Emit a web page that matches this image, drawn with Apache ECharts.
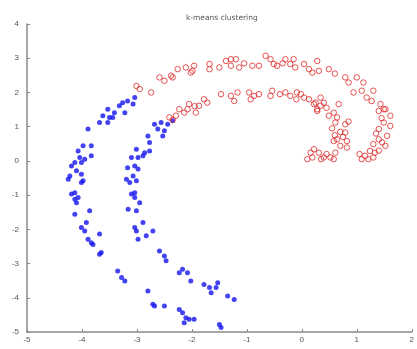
<!DOCTYPE html>
<html>
<head>
<meta charset="utf-8">
<script src="https://cdn.jsdelivr.net/npm/echarts@6/dist/echarts.min.js"></script>
<style>html,body{margin:0;padding:0;background:#fff}#c{width:417px;height:349px}</style>
</head>
<body>
<div id="c"></div>
<script>
var chartTitle = 'k-means clustering';
var xRange = [-5, 2];
var yRange = [-5, 4];

var blueOuter = [[-3.04,1.85],[-3.17,1.75],[-3.26,1.70],[-3.07,1.66],[-3.32,1.61],[-3.22,1.41],[-3.53,1.51],[-3.41,1.41],[-3.62,1.32],[-3.50,1.27],[-3.44,1.27],[-3.68,1.12],[-3.53,1.12],[-3.89,0.93],[-3.98,0.44],[-3.83,0.44],[-4.07,0.29],[-4.04,0.10],[-3.95,0.05],[-3.83,0.15],[-4.13,-0.05],[-4.19,-0.15],[-4.01,-0.05],[-4.10,-0.29],[-4.01,-0.39],[-4.22,-0.44],[-3.98,-0.58],[-4.25,-0.54],[-4.01,-0.63],[-4.13,-0.93],[-4.07,-1.07],[-4.19,-0.97],[-4.13,-1.12],[-4.10,-1.22],[-4.13,-1.56],[-3.86,-1.46],[-3.92,-1.80],[-4.01,-1.95],[-3.95,-2.05],[-3.68,-2.14],[-3.89,-2.29],[-3.83,-2.39],[-3.80,-2.44],[-3.65,-2.68],[-3.68,-2.73],[-3.35,-3.22],[-3.28,-3.41],[-3.22,-3.51],[-2.80,-3.80],[-2.71,-4.19],[-2.68,-4.24],[-2.50,-4.24],[-2.23,-4.34],[-2.17,-4.44],[-2.11,-4.58],[-2.05,-4.63],[-1.96,-4.63],[-2.14,-4.73],[-1.50,-4.78],[-1.47,-4.87]];
var blueInner = [[-2.68,1.07],[-2.56,1.12],[-2.44,1.07],[-2.35,1.17],[-2.62,0.93],[-2.50,0.88],[-2.53,0.73],[-2.80,0.73],[-2.77,0.54],[-3.01,0.34],[-2.86,0.24],[-2.77,0.29],[-3.10,0.10],[-2.98,0.10],[-2.89,0.15],[-3.17,-0.20],[-3.04,-0.15],[-2.98,-0.24],[-3.19,-0.54],[-3.07,-0.44],[-3.01,-0.58],[-3.13,-0.63],[-3.04,-0.93],[-3.10,-0.97],[-3.04,-1.07],[-2.95,-1.22],[-3.16,-1.41],[-3.01,-1.46],[-2.89,-1.80],[-3.04,-1.95],[-3.01,-2.05],[-2.83,-2.19],[-2.71,-2.05],[-2.98,-2.29],[-2.59,-2.63],[-2.50,-2.78],[-2.47,-2.92],[-2.17,-3.17],[-2.23,-3.27],[-2.08,-3.27],[-2.02,-3.51],[-1.78,-3.61],[-1.68,-3.70],[-1.65,-3.85],[-1.53,-3.56],[-1.56,-3.70],[-1.35,-3.95],[-1.23,-4.05]];
var redOuter = [[-3.01,2.19],[-2.95,2.10],[-2.74,2.00],[-2.59,2.44],[-2.50,2.34],[-2.38,2.49],[-2.35,2.44],[-2.26,2.68],[-2.11,2.73],[-2.02,2.58],[-1.96,2.78],[-1.99,2.63],[-1.68,2.83],[-1.68,2.68],[-1.50,2.73],[-1.38,2.92],[-1.29,2.97],[-1.20,2.97],[-1.29,2.78],[-1.14,2.73],[-1.05,2.85],[-0.90,2.78],[-0.78,2.78],[-0.66,3.07],[-0.57,2.97],[-0.51,2.83],[-0.45,2.78],[-0.35,2.85],[-0.30,2.97],[-0.21,2.83],[-0.15,2.97],[-0.12,2.73],[0.04,2.83],[0.13,2.68],[0.19,2.58],[0.28,2.92],[0.31,2.63],[0.49,2.68],[0.60,2.55],[0.79,2.44],[0.85,2.29],[1.00,2.44],[1.12,2.29],[0.94,2.00],[1.09,2.05],[1.30,2.05],[1.18,1.85],[1.27,1.75],[1.43,1.66],[1.52,1.51],[1.40,1.46],[1.49,1.51],[1.45,1.25],[1.61,1.32],[1.49,1.12],[1.61,1.02],[1.40,0.93],[1.35,0.80],[1.55,0.73],[1.40,0.63],[1.30,0.49],[1.46,0.54],[1.52,0.44],[1.40,0.30],[1.24,0.29],[1.33,0.24],[1.05,0.20],[1.15,0.15],[1.30,0.10],[1.09,0.05],[1.21,0.05]];
var redInner = [[-2.41,1.27],[-2.35,1.20],[-2.29,1.32],[-2.23,1.51],[-2.14,1.41],[-2.08,1.51],[-2.05,1.66],[-1.95,1.60],[-1.93,1.41],[-1.87,1.61],[-1.78,1.80],[-1.72,1.70],[-1.47,1.95],[-1.29,1.90],[-1.17,2.00],[-1.23,1.75],[-0.96,2.00],[-0.87,1.90],[-0.93,1.80],[-0.78,1.95],[-0.54,2.05],[-0.57,1.90],[-0.40,1.95],[-0.30,2.00],[-0.21,1.90],[-0.10,1.80],[-0.09,2.00],[-0.02,1.95],[0.04,1.85],[0.13,1.80],[0.22,1.66],[0.34,1.61],[0.34,1.85],[0.40,1.70],[0.25,1.70],[0.45,1.55],[0.67,1.66],[0.58,1.41],[0.28,1.46],[0.28,1.51],[0.49,1.32],[0.64,1.27],[0.61,1.12],[0.85,1.15],[0.79,1.07],[0.55,0.95],[0.70,0.85],[0.79,0.83],[0.60,0.75],[0.75,0.70],[0.64,0.63],[0.58,0.58],[0.82,0.58],[0.70,0.44],[0.82,0.39],[0.61,0.24],[0.45,0.20],[0.22,0.34],[0.16,0.24],[0.31,0.24],[0.19,0.10],[0.40,0.10],[0.52,0.10],[0.58,0.05],[0.35,0.05],[0.10,0.05]];

var chart = echarts.init(document.getElementById('c'), null, {renderer: 'canvas'});
var axisCommon = {
  axisLine: {show: true, onZero: false, lineStyle: {color: '#8a8a8a', width: 1.5}},
  axisTick: {show: true, inside: true, length: 3, lineStyle: {color: '#8a8a8a'}},
  splitLine: {show: false}
};
var blueStyle = {symbol: 'circle', symbolSize: 5, itemStyle: {color: '#1414f0'}};
var redStyle = {symbol: 'circle', symbolSize: 5.5, itemStyle: {color: 'rgba(255,255,255,0)', borderColor: '#e02828', borderWidth: 1, opacity: 0.8}};
chart.setOption({
  animation: false,
  backgroundColor: '#fff',
  title: {text: chartTitle, left: 181, top: 9, textStyle: {fontSize: 7.5, fontWeight: 'normal', color: '#555', fontFamily: 'DejaVu Sans'}},
  grid: {left: 27, right: 4, top: 24, bottom: 17, containLabel: false},
  xAxis: Object.assign({type: 'value', min: xRange[0], max: xRange[1], interval: 1}, axisCommon, {axisLabel: {fontSize: 8, color: '#555', margin: 4}}),
  yAxis: Object.assign({type: 'value', min: yRange[0], max: yRange[1], interval: 1}, axisCommon, {axisLabel: {fontSize: 8, color: '#555', margin: 8}}),
  series: [
    Object.assign({type: 'scatter', name: 'blueOuter', data: blueOuter}, blueStyle),
    Object.assign({type: 'scatter', name: 'blueInner', data: blueInner}, blueStyle),
    Object.assign({type: 'scatter', name: 'redOuter', data: redOuter}, redStyle),
    Object.assign({type: 'scatter', name: 'redInner', data: redInner}, redStyle)
  ]
});
</script>
</body>
</html>
